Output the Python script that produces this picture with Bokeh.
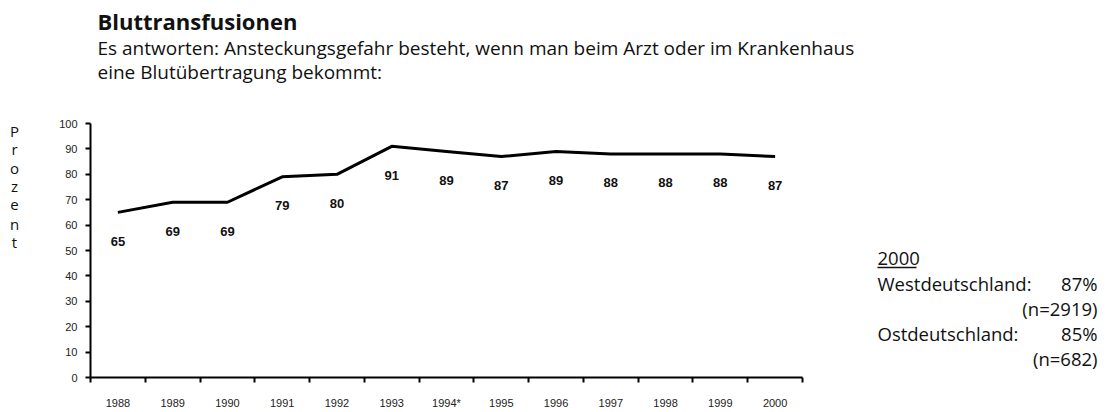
from bokeh.plotting import figure
from bokeh.layouts import column, row
from bokeh.models import Range1d, FixedTicker, ColumnDataSource
from bokeh.core.properties import value
from bokeh.embed import file_html
from bokeh.resources import INLINE

years = ["1988", "1989", "1990", "1991", "1992", "1993", "1994*", "1995",
         "1996", "1997", "1998", "1999", "2000"]
percent = [65, 69, 69, 79, 80, 91, 89, 87, 89, 88, 88, 88, 87]
y_ticks = [0, 10, 20, 30, 40, 50, 60, 70, 80, 90, 100]

title_text = "Bluttransfusionen"
subtitle_lines = ["Es antworten: Ansteckungsgefahr besteht, wenn man beim Arzt oder im Krankenhaus",
                  "eine Blutübertragung bekommt:"]
y_title = "Prozent"
side_head = "2000"
side_left = ["Westdeutschland:", "", "Ostdeutschland:", ""]
side_right = ["87%", "(n=2919)", "85%", "(n=682)"]

FONT = "Open Sans"
TICKFONT = "Liberation Sans"
TXT = "#111111"

TOP_H = 88
ROW_H = 412 - TOP_H
LEFT_W = 38
MAIN_W = 772
RIGHT_W = 1112 - LEFT_W - MAIN_W
BT, BB = 35, 35          # top / bottom borders of the main chart


def text_fig(w, h, x0, y0, bt=0, bb=0):
    # frame mapped to page pixel coordinates
    f = figure(width=w, height=h, output_backend="svg", toolbar_location=None,
               x_range=Range1d(x0, x0 + w), y_range=Range1d(y0 + h - bb, y0 + bt),
               x_axis_location=None, y_axis_location=None,
               min_border_left=0, min_border_right=0,
               min_border_top=bt, min_border_bottom=bb)
    f.outline_line_color = None
    f.grid.visible = False
    return f


# ---- title block
top = text_fig(1112, TOP_H, 0, 0)
top.text(x=[97], y=[20], text=[title_text], text_font=value(FONT),
         text_font_size="22px", text_font_style="bold", text_baseline="middle",
         text_color=TXT)
top.text(x=[97, 97], y=[47, 71], text=subtitle_lines, text_font=value(FONT),
         text_font_size="19px", text_baseline="middle", text_color=TXT)

# ---- left: stacked axis title
left = text_fig(LEFT_W, ROW_H, 0, TOP_H, bt=BT, bb=BB)
letters = list(y_title)
left.text(x=[14] * len(letters), y=[130 + 18.6 * i for i in range(len(letters))],
          text=letters, text_font=value(FONT), text_font_size="15px",
          text_align="center", text_baseline="middle", text_color=TXT)

# ---- main chart
p = figure(width=MAIN_W, height=ROW_H, output_backend="svg", toolbar_location=None,
           x_range=Range1d(0, len(years)), y_range=Range1d(0, 100),
           min_border_left=52, min_border_right=8,
           min_border_top=BT, min_border_bottom=BB)
p.outline_line_color = None
p.grid.visible = False

xs = [i + 0.5 for i in range(len(years))]
src = ColumnDataSource(dict(x=xs, y=percent, lab=[str(v) for v in percent]))
p.line("x", "y", source=src, line_width=3, line_color="black")
p.text("x", "y", text="lab", source=src, y_offset=29, text_align="center",
       text_baseline="middle", text_font=value(TICKFONT), text_font_size="13px",
       text_font_style="bold", text_color=TXT)

xa = p.xaxis[0]
xa.ticker = FixedTicker(ticks=xs, minor_ticks=list(range(len(years) + 1)))
xa.major_label_overrides = {x: y for x, y in zip(xs, years)}
xa.major_tick_out = 0
xa.major_tick_in = 0
xa.minor_tick_out = 5
xa.minor_tick_in = 0
xa.minor_tick_line_color = "black"
xa.minor_tick_line_width = 2
xa.axis_line_width = 2
xa.axis_line_color = "black"
xa.major_label_standoff = 14
xa.major_label_text_font = TICKFONT
xa.major_label_text_font_size = "11px"
xa.major_label_text_color = "#222222"

ya = p.yaxis[0]
ya.ticker = FixedTicker(ticks=y_ticks, minor_ticks=[])
ya.major_tick_out = 5
ya.major_tick_in = 0
ya.major_tick_line_width = 2
ya.axis_line_width = 2
ya.axis_line_color = "black"
ya.major_label_standoff = 8
ya.major_label_text_font = TICKFONT
ya.major_label_text_font_size = "11px"
ya.major_label_text_color = "#222222"

# ---- right: 2000 summary
right = text_fig(RIGHT_W, ROW_H, LEFT_W + MAIN_W, TOP_H, bt=BT, bb=BB)
right.text(x=[877], y=[258], text=[side_head], text_font=value(FONT),
           text_font_size="18.5px", text_baseline="middle", text_color=TXT)
right.segment(x0=[877], x1=[916], y0=[267], y1=[267], line_color=TXT, line_width=1.3)
ys = [283 + 25 * i for i in range(len(side_right))]
right.text(x=[877] * 4, y=ys, text=side_left, text_font=value(FONT),
           text_font_size="18.5px", text_baseline="middle", text_color=TXT)
right.text(x=[1097] * 4, y=ys, text=side_right, text_font=value(FONT),
           text_font_size="18.5px", text_baseline="middle", text_align="right",
           text_color=TXT)

layout = column(top, row(left, p, right, spacing=0), spacing=0)
open("out.html", "w").write(file_html(layout, INLINE))
